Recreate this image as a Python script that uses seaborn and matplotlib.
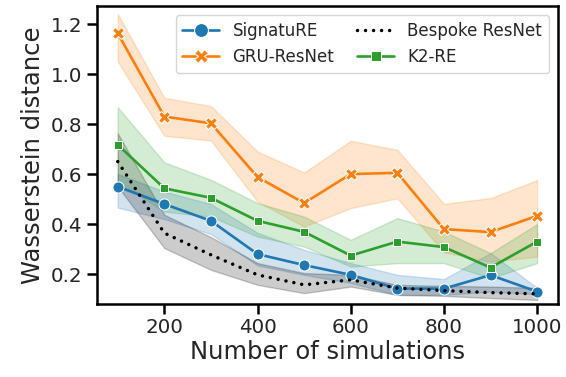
import pandas as pd
import matplotlib
matplotlib.use('Agg')
import matplotlib.pyplot as plt
import seaborn as sns

sims = [100, 200, 300, 400, 500, 600, 700, 800, 900, 1000]

# centre line, lower band, upper band for each method
signature_mid = [0.550, 0.480, 0.413, 0.280, 0.236, 0.197, 0.142, 0.142, 0.196, 0.130]
signature_lo = [0.466, 0.420, 0.360, 0.235, 0.197, 0.165, 0.117, 0.117, 0.130, 0.120]
signature_hi = [0.600, 0.530, 0.480, 0.365, 0.297, 0.244, 0.197, 0.180, 0.284, 0.145]

gru_mid = [1.163, 0.830, 0.803, 0.588, 0.484, 0.600, 0.605, 0.380, 0.368, 0.433]
gru_lo = [1.050, 0.753, 0.734, 0.490, 0.390, 0.464, 0.503, 0.288, 0.250, 0.270]
gru_hi = [1.240, 0.905, 0.872, 0.690, 0.606, 0.733, 0.697, 0.481, 0.504, 0.576]

bespoke_mid = [0.650, 0.364, 0.277, 0.197, 0.157, 0.177, 0.144, 0.134, 0.126, 0.121]
bespoke_lo = [0.550, 0.304, 0.217, 0.157, 0.124, 0.150, 0.117, 0.113, 0.104, 0.097]
bespoke_hi = [0.763, 0.437, 0.348, 0.244, 0.204, 0.197, 0.157, 0.153, 0.150, 0.145]

k2_mid = [0.717, 0.543, 0.505, 0.413, 0.369, 0.274, 0.330, 0.308, 0.226, 0.330]
k2_lo = [0.570, 0.450, 0.430, 0.350, 0.310, 0.230, 0.244, 0.244, 0.184, 0.244]
k2_hi = [0.867, 0.647, 0.577, 0.484, 0.430, 0.337, 0.424, 0.370, 0.284, 0.400]


def long_df(mid, lo, hi):
    rows = []
    for x, m, l, h in zip(sims, mid, lo, hi):
        for v in (l, m, h):
            rows.append({'sims': x, 'dist': v})
    return pd.DataFrame(rows)


sns.set_theme(style='ticks')
plt.rcParams['font.family'] = ['DejaVu Sans']
plt.rcParams['axes.linewidth'] = 1.8
plt.rcParams['axes.edgecolor'] = 'black'
plt.rcParams['xtick.color'] = 'black'
plt.rcParams['ytick.color'] = 'black'
plt.rcParams['xtick.labelcolor'] = '.15'
plt.rcParams['ytick.labelcolor'] = '.15'
plt.rcParams['xtick.major.width'] = 1.8
plt.rcParams['ytick.major.width'] = 1.8
plt.rcParams['xtick.major.size'] = 7
plt.rcParams['ytick.major.size'] = 7

fig = plt.figure(figsize=(5.66, 3.77), dpi=100)
ax = fig.add_axes([0.171, 0.194, 0.815, 0.790])

pal = sns.color_palette('tab10')
common = dict(x='sims', y='dist', estimator='median', errorbar=('pi', 100), ax=ax)

sns.lineplot(data=long_df(signature_mid, signature_lo, signature_hi), color=pal[0],
             marker='o', markersize=8, markeredgecolor='white', linewidth=1.9,
             label='SignatuRE', **common)
sns.lineplot(data=long_df(gru_mid, gru_lo, gru_hi), color=pal[1],
             marker='X', markersize=8, markeredgecolor='white', linewidth=1.9,
             label='GRU-ResNet', **common)
sns.lineplot(data=long_df(bespoke_mid, bespoke_lo, bespoke_hi), color='black',
             linestyle=(0, (0.01, 2.3)), dash_capstyle='round', linewidth=2.5,
             label='Bespoke ResNet', **common)
sns.lineplot(data=long_df(k2_mid, k2_lo, k2_hi), color=pal[2],
             marker='s', markersize=6, markeredgecolor='white', linewidth=1.9,
             label='K2-RE', **common)

ax.set_xlim(55, 1045)
ax.set_ylim(0.081, 1.272)
ax.set_xticks([200, 400, 600, 800, 1000])
ax.set_yticks([0.2, 0.4, 0.6, 0.8, 1.0, 1.2])
ax.tick_params(labelsize=14.3)
ax.set_xlabel('Number of simulations', fontsize=17.5, labelpad=2)
ax.set_ylabel('Wasserstein distance', fontsize=17.5, labelpad=4)
ax.legend(loc='upper right', ncol=2, fontsize=12, frameon=True,
          borderaxespad=0.55, columnspacing=1.4, handlelength=2.2,
          markerscale=1.25, labelspacing=0.5)

plt.savefig('out.png', dpi=100)
